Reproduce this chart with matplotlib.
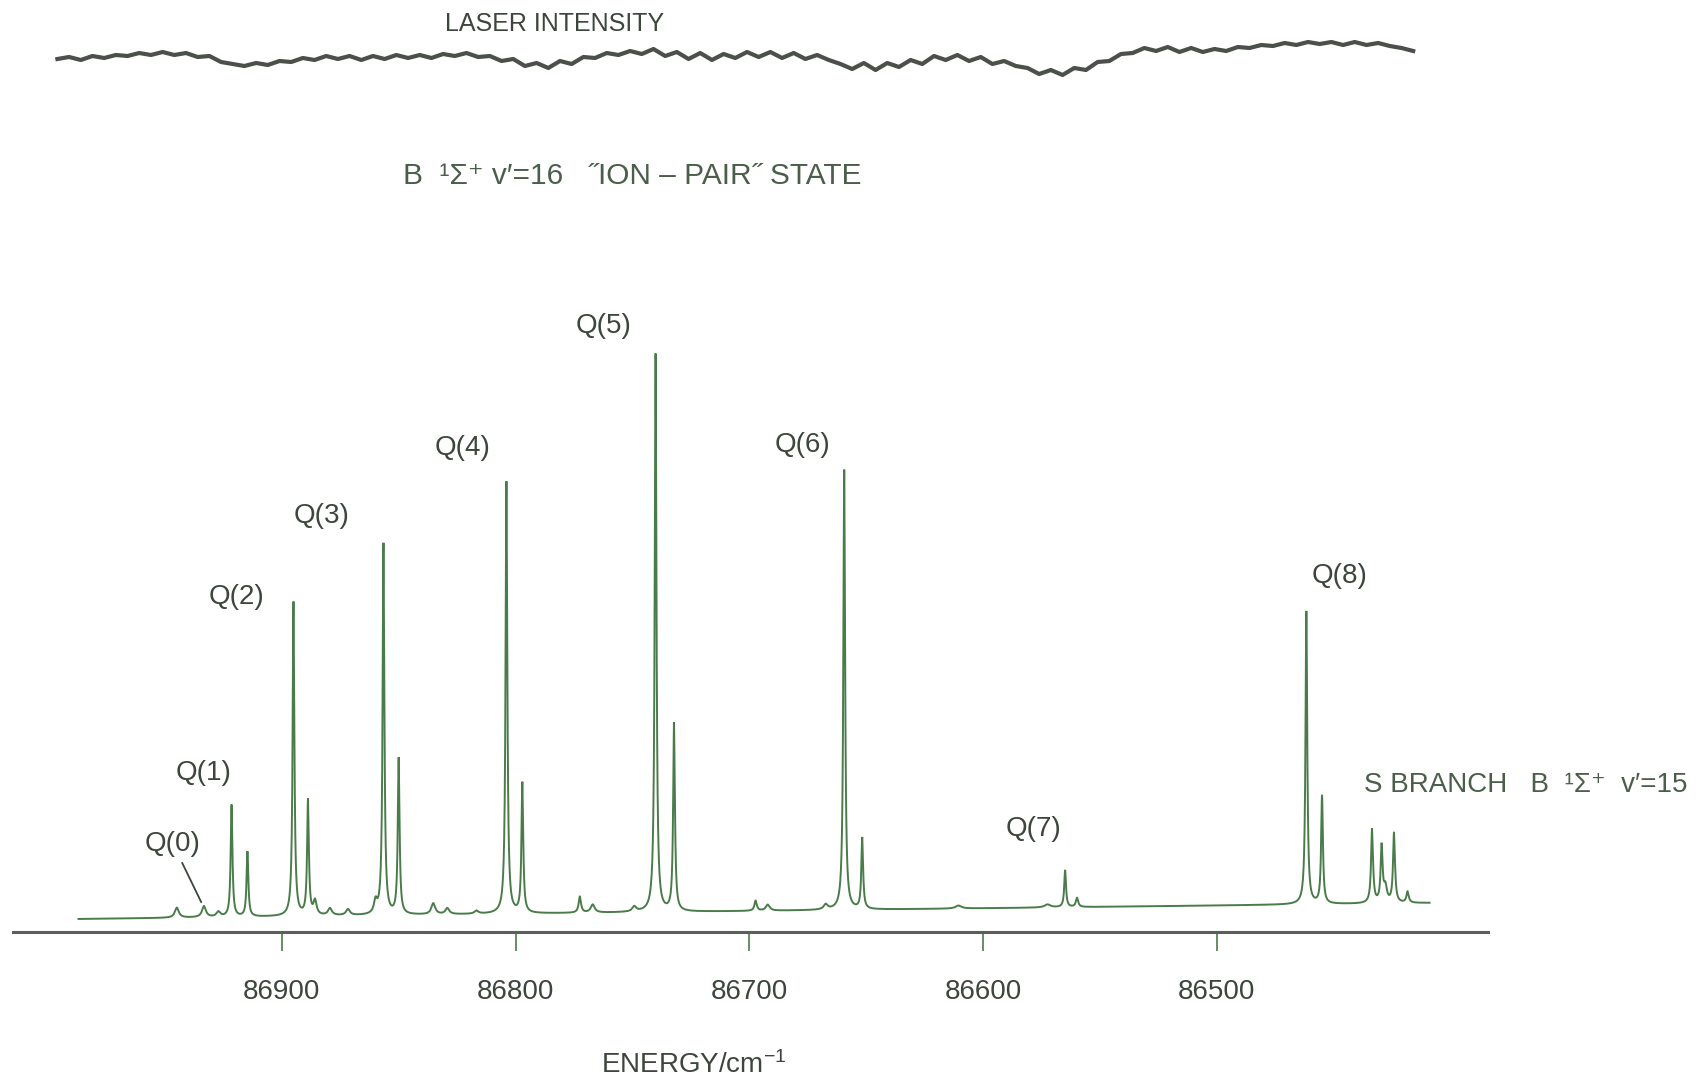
import numpy as np
import matplotlib
matplotlib.use("Agg")
import matplotlib.pyplot as plt

plt.rcParams["font.family"] = ["Liberation Sans", "DejaVu Sans"]
plt.rcParams["mathtext.default"] = "regular"

# ---------------- data ----------------
# Rotational lines: energy (cm^-1), peak height above baseline, half width (cm^-1)
line_energy = [86944.9, 86933.3, 86927.1, 86921.5, 86914.7, 86895.0, 86888.8, 86885.8,
               86879.4, 86871.7, 86859.9, 86856.5, 86850.0, 86835.2, 86829.2, 86816.7,
               86803.9, 86797.1, 86772.5, 86767.0, 86749.2, 86740.1, 86732.2, 86697.3,
               86692.1, 86667.3, 86659.4, 86651.7, 86610.5, 86572.4, 86564.9, 86559.8,
               86461.7, 86455.0, 86433.6, 86429.5, 86427.9, 86424.2, 86418.4]
line_height = [10, 11, 5, 112, 65, 314, 115, 14,
               7, 6, 12, 371, 156, 11, 6, 3,
               432, 130, 16, 8, 5, 558, 188, 10,
               6, 5, 440, 71, 3, 3, 37, 9,
               293, 108, 74, 56, 15, 70, 11]
line_hwhm = [1.0, 1.0, 1.0, 0.45, 0.45, 0.45, 0.45, 0.8,
             1.0, 1.0, 0.8, 0.45, 0.45, 1.0, 1.0, 1.0,
             0.45, 0.45, 0.6, 1.0, 1.0, 0.45, 0.45, 0.6,
             1.0, 1.0, 0.45, 0.45, 1.5, 1.5, 0.45, 0.6,
             0.45, 0.45, 0.5, 0.5, 0.8, 0.5, 0.6]

# Slowly rising baseline of the ion signal
baseline_energy = [86987, 86900, 86800, 86700, 86600, 86500, 86409]
baseline_level = [13.0, 15.4, 18.2, 20.9, 23.7, 26.5, 29.0]

# Laser intensity monitor trace, sampled every 5 cm^-1 from 86996 cm^-1 downwards
laser_start, laser_step = 86996.0, -5.0
laser_level = [873, 875, 872, 876, 874, 877, 876, 879, 877, 880,
               877, 879, 875, 876, 870, 868, 866, 869, 867, 871,
               870, 874, 872, 876, 873, 876, 872, 876, 873, 877,
               874, 877, 874, 878, 876, 879, 875, 876, 871, 873,
               866, 869, 864, 871, 868, 875, 874, 879, 877, 881,
               878, 883, 876, 880, 873, 879, 872, 878, 874, 880,
               875, 880, 874, 879, 873, 877, 872, 868, 863, 869,
               862, 869, 865, 872, 868, 876, 872, 877, 871, 875,
               868, 871, 866, 864, 858, 862, 857, 864, 862, 870,
               871, 878, 879, 884, 881, 885, 880, 884, 880, 883,
               881, 885, 884, 887, 886, 889, 887, 890, 888, 890,
               887, 890, 887, 889, 886, 884, 881]

xticks = [86900, 86800, 86700, 86600, 86500]
branch_labels = ["Q(0)", "Q(1)", "Q(2)", "Q(3)", "Q(4)", "Q(5)", "Q(6)", "Q(7)", "Q(8)"]

# ---------------- layout ----------------
label_pos = [(86946.7, 88), (86933.3, 159), (86919.3, 335), (86883.2, 416),
             (86822.8, 484), (86762.2, 606), (86677.2, 487), (86578.6, 103),
             (86447.4, 356)]

line_color = "#4a7c4a"
text_color = "#3c463c"

fig = plt.figure(figsize=(17.06, 10.82), dpi=100)
ax = fig.add_axes([13 / 1706, 150 / 1082, 1475 / 1706, 932 / 1082])
ax.set_xlim(87015, 86384)
ax.set_ylim(0, 932)

# spectrum = baseline + Lorentzian lines
energy = np.arange(86409.0, 86987.0, 0.02)
signal = np.interp(energy, baseline_energy[::-1], baseline_level[::-1])
for e0, h, g in zip(line_energy, line_height, line_hwhm):
    signal = signal + h * g ** 2 / ((energy - e0) ** 2 + g ** 2)
ax.plot(energy, signal, color=line_color, lw=1.4, solid_joinstyle="miter")

# laser intensity trace
laser_energy = laser_start + laser_step * np.arange(len(laser_level))
ax.plot(laser_energy, laser_level, color="#4b504b", lw=3.0)

# axes styling
for side in ("top", "left", "right"):
    ax.spines[side].set_visible(False)
ax.spines["bottom"].set_color("#5a5f5a")
ax.spines["bottom"].set_linewidth(2.2)
ax.set_yticks([])
ax.set_xticks(xticks)
ax.set_xticklabels([str(t) for t in xticks])
ax.tick_params(axis="x", direction="out", length=14, width=1.2, color=line_color,
               pad=20, labelsize=20, labelcolor=text_color)

ax.text(0.4617, -0.143, "ENERGY/cm$^{-1}$", transform=ax.transAxes, ha="center",
        va="center", fontsize=20, color=text_color)

# branch labels
for txt, (ex, ey) in zip(branch_labels, label_pos):
    ax.text(ex, ey, txt, ha="center", va="center", fontsize=20, color=text_color)
ax.plot([86942.6, 86934.5], [69, 30], color=text_color, lw=1.3)

ax.text(86783.2, 908, "LASER INTENSITY", ha="center", va="center", fontsize=18,
        color=text_color)
ax.text(86848.1, 756, "B  ¹Σ⁺ v′=16   ˝ION – PAIR˝ STATE", ha="left", va="center",
        fontsize=21.5, color="#4a5e4a")
ax.text(86436.9, 147, "S BRANCH   B  ¹Σ⁺  v′=15", ha="left", va="center",
        fontsize=20, color="#4a5e4a", clip_on=False)

fig.savefig("out.png", dpi=100, facecolor="white")
